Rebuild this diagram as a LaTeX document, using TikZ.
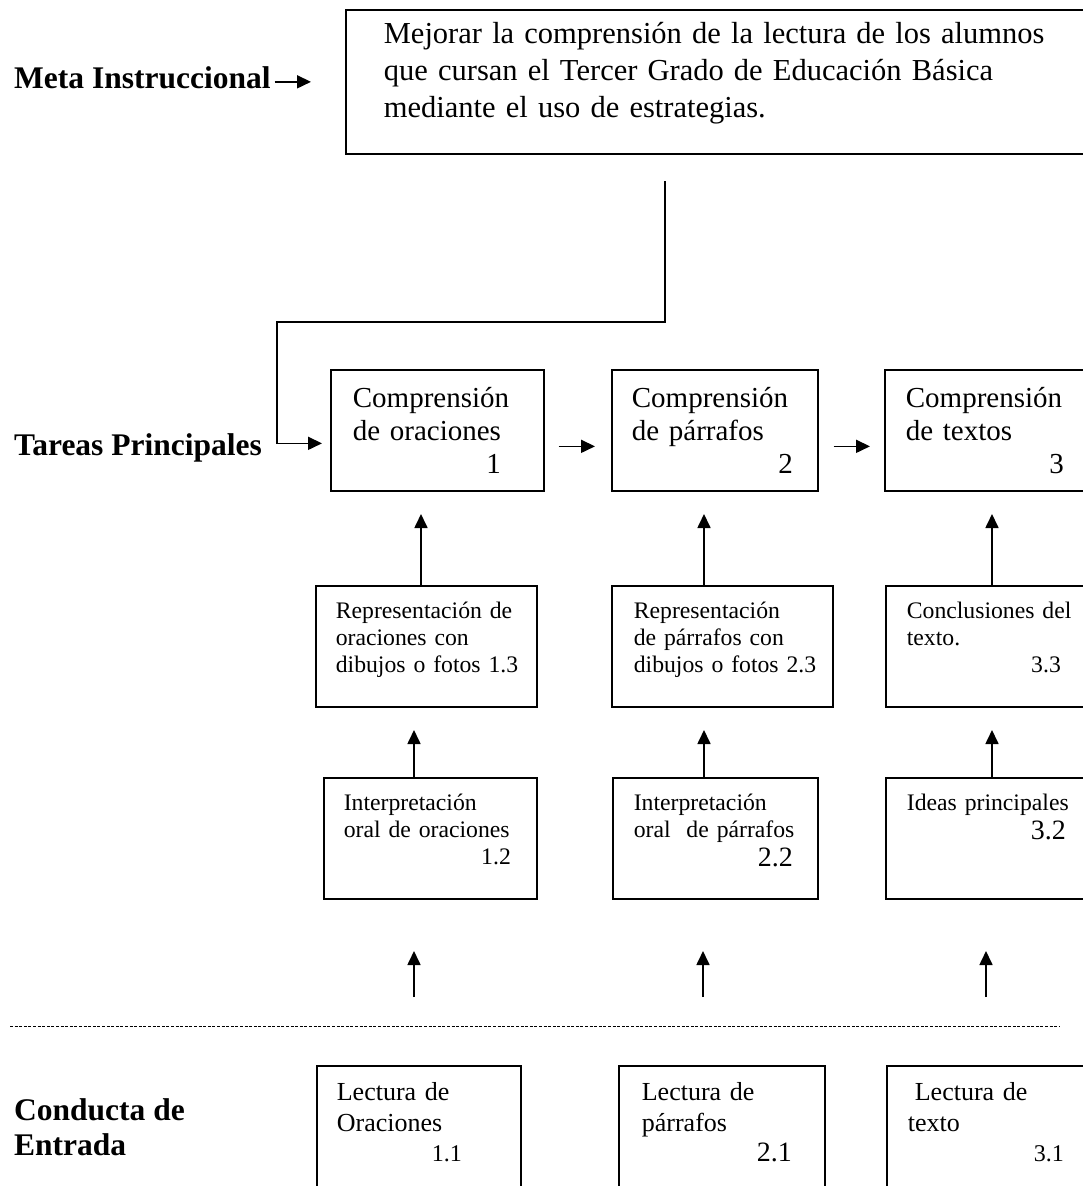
\documentclass[tikz,border=0pt]{standalone}
\usepackage{fontspec}
\setmainfont{Liberation Serif}
\usepackage{tikz}
\usetikzlibrary{arrows.meta}
\newcommand{\numcaja}[2]{\makebox[#1][r]{#2}}
\tikzset{
	caja/.style={draw, line width=1.7pt, anchor=north west, inner sep=0pt, align=left,
		execute at begin node={\leftskip=#1\relax}},
	caja/.default=21pt
}
\tikzstyle{fila1}=[font=\fontsize{29}{33}\selectfont, text height=38pt, text depth=83pt]
\tikzstyle{fila2}=[font=\fontsize{23.7}{27}\selectfont, text height=33pt, text depth=88pt]
\tikzstyle{fila4}=[font=\fontsize{26}{30.5}\selectfont, text height=35pt, text depth=150pt]
\tikzstyle{titulo}=[anchor=base west, inner sep=0pt, align=left, font=\bfseries\fontsize{31.5}{35}\selectfont]
\tikzstyle{flecha}=[line width=1.7pt, -{Triangle[length=14pt,width=13pt]}]
\tikzstyle{punteada}=[line width=0.9pt, dash pattern=on 3pt off 1.6pt]

\begin{document}
\begin{tikzpicture}[x=1pt,y=-1pt]
	\useasboundingbox[fill=white] (0,0) rectangle (1083,1186);
	% meta
	\node[caja=38pt, text width=800pt, text height=34pt, text depth=110pt,
		font=\fontsize{30.5}{37}\selectfont] (meta) at (345,9)
		{Mejorar la comprensión de la lectura de los alumnos\\que cursan el Tercer Grado de Educación Básica\\mediante el uso de estrategias.};
	\node[titulo] (lmeta) at (14,88) {Meta Instruccional};
	\draw[flecha] ([xshift=4pt]lmeta.base east |- meta.west) -- ([xshift=-34pt]meta.west);
	% tareas principales
	\node[caja=22pt, fila1, text width=213pt] (c1) at (330,369) {Comprensión\\de oraciones\\\numcaja{148pt}{1}};
	\node[caja=20pt, fila1, text width=206pt] (c2) at (611,369) {Comprensión\\de párrafos\\\numcaja{161pt}{2}};
	\node[caja, fila1, text width=260pt] (c3) at (884,369) {Comprensión\\de textos\\\numcaja{158pt}{3}};
	\node[titulo] (ltareas) at (14,455) {Tareas Principales};
	\coordinate (m0) at (665,181);
	\coordinate (codo) at (277,322);
	\draw[flecha] (m0) |- (codo) |- ([xshift=-8pt,yshift=-13pt]c1.west);
	\draw[flecha] ([xshift=14pt,yshift=-16pt]c1.east) -- ([xshift=-16pt,yshift=-16pt]c2.west);
	\draw[flecha] ([xshift=15pt,yshift=-16pt]c2.east) -- ([xshift=-14pt,yshift=-16pt]c3.west);
	% subtareas
	\node[caja=20pt, fila2, text width=221pt] (r13) at (315,585) {Representación de\\oraciones con\\dibujos o fotos 1.3};
	\node[caja=22pt, fila2, text width=221pt] (r23) at (611,585) {Representación\\de párrafos con\\dibujos o fotos 2.3};
	\node[caja, fila2, text width=260pt] (r33) at (885,585) {Conclusiones del\\texto.\\\numcaja{154pt}{3.3}};
	\node[caja=20pt, fila2, text width=213pt] (r12) at (323,777) {Interpretación\\oral de oraciones\\\numcaja{167pt}{1.2}};
	\node[caja, fila2, text width=205pt] (r22) at (612,777) {Interpretación\\oral~ de párrafos\\[2pt]\numcaja{159pt}{\fontsize{28}{32}\selectfont 2.2}};
	\node[caja, fila2, text width=260pt] (r32) at (885,777) {Ideas principales\\[2pt]\numcaja{159pt}{\fontsize{28}{32}\selectfont 3.2}};
	\draw[flecha] ([xshift=106pt]r13.north west) -- ++(0,-71);
	\draw[flecha] ([xshift=93pt]r23.north west) -- ++(0,-71);
	\draw[flecha] ([xshift=107pt]r33.north west) -- ++(0,-71);
	\draw[flecha] ([xshift=91pt]r12.north west) -- ++(0,-47);
	\draw[flecha] ([xshift=92pt]r22.north west) -- ++(0,-47);
	\draw[flecha] ([xshift=107pt]r32.north west) -- ++(0,-47);
	% conducta de entrada
	\draw[punteada] (10,1026) -- (1060,1026);
	\node[caja=20pt, fila4, text width=204pt] (r11) at (316,1065) {Lectura de\\Oraciones\\\numcaja{125pt}{\fontsize{24}{28}\selectfont 1.1}};
	\node[caja=23pt, fila4, text width=206pt] (r21) at (618,1065) {Lectura de\\párrafos\\\numcaja{150pt}{\fontsize{28}{32}\selectfont 2.1}};
	\node[caja, fila4, text width=260pt] (r31) at (886,1065) {\hspace*{7pt}Lectura de\\texto\\\numcaja{156pt}{\fontsize{24}{28}\selectfont 3.1}};
	\node[titulo] (lconducta) at (14,1155) {Conducta de\\Entrada};
	\draw[flecha] ([xshift=98pt,yshift=68pt]r11.north west) -- ++(0,-46);
	\draw[flecha] ([xshift=85pt,yshift=68pt]r21.north west) -- ++(0,-46);
	\draw[flecha] ([xshift=100pt,yshift=68pt]r31.north west) -- ++(0,-46);
\end{tikzpicture}
\end{document}
